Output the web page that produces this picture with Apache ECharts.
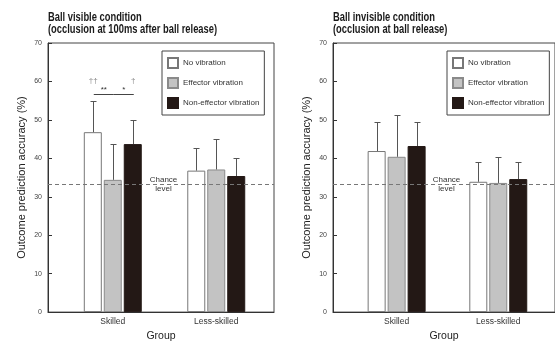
<!DOCTYPE html>
<html>
<head>
<meta charset="utf-8">
<script src="https://cdn.jsdelivr.net/npm/echarts@6/dist/echarts.min.js"></script>
<style>html,body{margin:0;padding:0;background:#fff;}#c{width:555px;height:347px;}</style>
</head>
<body>
<div id="c"></div>
<script>
// ---- data ----
const groups = ['Skilled', 'Less-skilled'];
const groupPos = [1, 2];
const conditions = ['No vibration', 'Effector vibration', 'Non-effector vibration'];
// means per condition [Skilled, Less-skilled]
const visibleNoVib = [46.8, 36.8];
const visibleEffVib = [34.4, 37.1];
const visibleNonEffVib = [43.7, 35.4];
const visibleNoVibSD = [8.0, 6.0];
const visibleEffVibSD = [9.2, 8.0];
const visibleNonEffVibSD = [6.2, 4.7];
const invisibleNoVib = [41.9, 33.9];
const invisibleEffVib = [40.4, 33.6];
const invisibleNonEffVib = [43.2, 34.6];
const invisibleNoVibSD = [7.6, 5.2];
const invisibleEffVibSD = [10.9, 6.8];
const invisibleNonEffVibSD = [6.3, 4.5];
const chanceLevel = 33.3;
const yTicks = [0, 10, 20, 30, 40, 50, 60, 70];
const titles = ['Ball visible condition\n(occlusion at 100ms after ball release)', 'Ball invisible condition\n(occlusion at ball release)'];
// significance annotations (left panel): group index, bar from, bar to, y level, text
const sigGroup = [0, 0, 0, 0];
const sigFrom = [0, 1, 0, 2];
const sigTo = [1, 2, 0, 2];
const sigY = [56.7, 56.7, 60.2, 60.2];
const sigText = ['**', '*', '††', '†'];

// ---- styles ----
const FONT = 'Liberation Sans, Arial, sans-serif';
const barStyles = [
  {color: '#ffffff', borderColor: '#777777', borderWidth: 1},
  {color: '#c3c3c3', borderColor: '#8a8a8a', borderWidth: 1},
  {color: '#231815', borderColor: '#231815', borderWidth: 1}
];
const BAR_W = 18, BAR_STEP = 20;
function barOffset(i) { return (i - 1) * BAR_STEP; }

const panels = [
  {means: [visibleNoVib, visibleEffVib, visibleNonEffVib], sd: [visibleNoVibSD, visibleEffVibSD, visibleNonEffVibSD], left: 48},
  {means: [invisibleNoVib, invisibleEffVib, invisibleNonEffVib], sd: [invisibleNoVibSD, invisibleEffVibSD, invisibleNonEffVibSD], left: 333}
];

const grids = [], xAxes = [], yAxes = [], series = [], legends = [], graphics = [];
panels.forEach((p, pi) => {
  grids.push({left: p.left, top: 43, width: 226, height: 279, show: true, borderColor: '#444', borderWidth: 1, backgroundColor: 'transparent'});
  xAxes.push({
    type: 'value', gridIndex: pi, min: 0.374, max: 2.558,
    splitLine: {show: false}, axisTick: {show: false},
    axisLine: {show: true, onZero: false, lineStyle: {color: '#333', width: 1}},
    axisLabel: {customValues: groupPos, formatter: v => groups[groupPos.indexOf(v)] || '', fontSize: 8.5, color: '#333', fontFamily: FONT, margin: 5},
    name: 'Group', nameLocation: 'middle', nameGap: 14,
    nameTextStyle: {fontSize: 10.5, color: '#222', fontFamily: FONT}
  });
  yAxes.push({
    type: 'value', gridIndex: pi, min: yTicks[0], max: yTicks[yTicks.length - 1], interval: 10,
    splitLine: {show: false},
    axisLine: {show: true, lineStyle: {color: '#333', width: 1}},
    axisTick: {show: true, inside: true, length: 4, lineStyle: {color: '#333'}},
    axisLabel: {fontSize: 7, color: '#444', fontFamily: FONT, margin: 6},
    name: 'Outcome prediction accuracy (%)', nameLocation: 'middle', nameGap: 21,
    nameTextStyle: {fontSize: 11, color: '#222', fontFamily: FONT}
  });
  graphics.push({
    type: 'text', x: p.left, y: 11, scaleX: 0.72, silent: true,
    style: {text: titles[pi], fontFamily: 'Liberation Sans, Arial, sans-serif', fontWeight: 'bold', fontSize: 13, lineHeight: 12.5, fill: '#1a1a1a', verticalAlign: 'top'}
  });
  legends.push({
    data: conditions, left: p.left + 114, top: 51, orient: 'vertical',
    itemWidth: 10, itemHeight: 10, itemGap: 8, padding: [6, 5, 6, 5],
    borderColor: '#444', borderWidth: 1, icon: 'rect', selectedMode: false,
    textStyle: {fontSize: 8, color: '#333', fontFamily: FONT}
  });
  conditions.forEach((c, ci) => {
    const s = {
      type: 'bar', name: c, xAxisIndex: pi, yAxisIndex: pi,
      data: groupPos.map((g, gi) => [g, p.means[ci][gi]]),
      barWidth: BAR_W, barGap: '11%',
      itemStyle: barStyles[ci], silent: true, z: 2
    };
    if (ci === 0) {
      s.markLine = {
        silent: true, symbol: 'none',
        lineStyle: {type: [4, 3], color: '#777', width: 1},
        label: {formatter: 'Chance\nlevel', position: 'middle', distance: 0, verticalAlign: 'middle',
                fontSize: 8, lineHeight: 9, color: '#333', fontFamily: FONT, padding: [0, 0, 0, 5]},
        data: [{yAxis: chanceLevel}]
      };
    }
    series.push(s);
  });
  const errData = [];
  conditions.forEach((c, ci) => groupPos.forEach((g, gi) => {
    errData.push([g, p.means[ci][gi], p.means[ci][gi] + p.sd[ci][gi], ci]);
  }));
  series.push({
    type: 'custom', xAxisIndex: pi, yAxisIndex: pi, silent: true, z: 3,
    data: errData, encode: {x: 0, y: [1, 2]},
    renderItem: (params, api) => {
      const x = api.value(0), m = api.value(1), t = api.value(2), ci = api.value(3);
      const a = api.coord([x, m]), b = api.coord([x, t]);
      const cx = Math.round(a[0] + barOffset(ci)) + 0.5;
      const ty = Math.round(b[1]) + 0.5;
      const st = {stroke: '#555', lineWidth: 1};
      return {type: 'group', children: [
        {type: 'line', shape: {x1: cx, y1: a[1], x2: cx, y2: ty}, style: st},
        {type: 'line', shape: {x1: cx - 3, y1: ty, x2: cx + 3, y2: ty}, style: st}
      ]};
    }
  });
});

// significance marks on left panel
series.push({
  type: 'custom', xAxisIndex: 0, yAxisIndex: 0, silent: true, z: 4,
  data: sigY.map((y, i) => [groupPos[sigGroup[i]], y]),
  renderItem: (params, api) => {
    const i = params.dataIndex;
    const c = api.coord([api.value(0), api.value(1)]);
    const x1 = c[0] + barOffset(sigFrom[i]), x2 = c[0] + barOffset(sigTo[i]);
    const y = Math.round(c[1]) + 0.5;
    if (sigFrom[i] !== sigTo[i]) {
      return {type: 'group', children: [
        {type: 'line', shape: {x1: x1 + 1, y1: y, x2: x2 + 1, y2: y}, style: {stroke: '#444', lineWidth: 1}},
        {type: 'text', x: (x1 + x2) / 2 + 1, y: y - 1, style: {text: sigText[i], fontSize: 8, fill: '#333', align: 'center', verticalAlign: 'bottom', fontFamily: FONT}}
      ]};
    }
    return {type: 'text', x: x1 + 0.5, y: c[1], style: {text: sigText[i], fontSize: 8, fill: '#888', align: 'center', verticalAlign: 'middle', fontFamily: FONT}};
  }
});

const chart = echarts.init(document.getElementById('c'), null, {renderer: 'canvas'});
chart.setOption({
  animation: false, backgroundColor: '#fff',
  graphic: graphics, legend: legends, grid: grids, xAxis: xAxes, yAxis: yAxes, series: series
});
</script>
</body>
</html>
